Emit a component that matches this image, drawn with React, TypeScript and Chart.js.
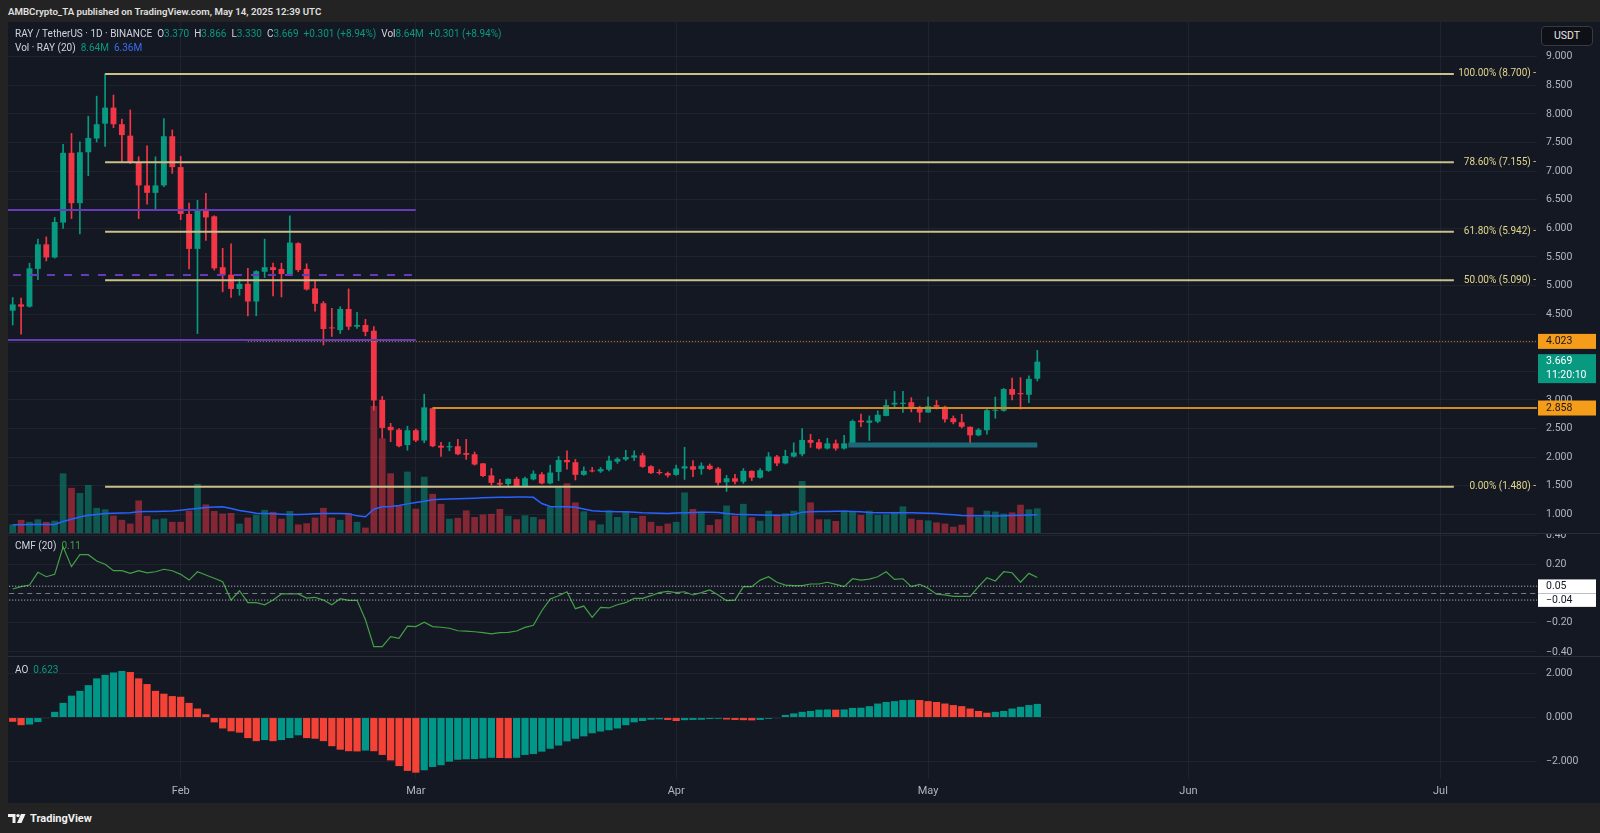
import React, { useEffect, useRef } from 'react';
import { Chart, registerables } from 'chart.js';

Chart.register(...registerables);

// ---------------- data (index 0 = Jan 12, 2025, daily bars, last = May 14, 2025) ----------------
const candleOpen = [
  4.56, 4.67, 4.63, 5.29, 5.72, 5.49, 6.10, 7.32, 6.44, 7.33, 7.57, 7.83, 8.11, 7.82, 7.62, 7.15, 6.75, 6.62, 6.75, 7.61,
  7.07, 6.25, 5.64, 6.34, 6.21, 5.32, 5.19, 4.94, 5.03, 4.72, 5.24, 5.32, 5.29, 5.20, 5.74, 5.29, 4.95, 4.69, 4.26, 4.22,
  4.59, 4.28, 4.31, 4.21, 3.00, 2.53, 2.48, 2.21, 2.47, 2.29, 2.855, 2.20, 2.17, 2.19, 2.07, 2.05, 1.89, 1.68, 1.55, 1.53,
  1.62, 1.49, 1.61, 1.70, 1.54, 1.74, 1.95, 1.91, 1.69, 1.76, 1.75, 1.78, 1.92, 1.96, 1.99, 2.03, 1.84, 1.74, 1.72, 1.69,
  1.80, 1.84, 1.79, 1.85, 1.80, 1.56, 1.63, 1.57, 1.76, 1.64, 1.76, 2.01, 1.89, 2.01, 2.05, 2.30, 2.26, 2.15, 2.24, 2.15,
  2.23, 2.64, 2.60, 2.62, 2.72, 2.92, 2.93, 2.96, 2.86, 2.78, 2.91, 2.88, 2.68, 2.61, 2.53, 2.38, 2.47, 2.81, 2.81, 3.19,
  3.12, 3.09, 3.370,
];
const candleHigh = [
  4.79, 4.78, 5.39, 5.81, 5.85, 6.19, 7.47, 7.66, 7.51, 7.96, 8.31, 8.70, 8.33, 7.91, 8.07, 7.25, 7.44, 7.25, 7.92, 7.72,
  7.26, 6.44, 6.49, 6.61, 6.22, 5.65, 5.73, 5.11, 5.30, 5.26, 5.81, 5.39, 5.39, 6.22, 5.75, 5.38, 5.08, 4.72, 4.60, 4.63,
  4.94, 4.53, 4.41, 4.28, 3.06, 2.59, 2.50, 2.54, 2.49, 3.10, 2.86, 2.26, 2.26, 2.31, 2.31, 2.09, 1.89, 1.80, 1.61, 1.62,
  1.65, 1.65, 1.76, 1.73, 1.86, 2.01, 2.11, 1.96, 1.83, 1.82, 1.82, 2.02, 1.99, 2.12, 2.11, 2.07, 1.85, 1.78, 1.74, 1.86,
  2.17, 1.94, 1.90, 1.88, 1.82, 1.68, 1.70, 1.80, 1.76, 1.80, 2.08, 2.03, 2.12, 2.25, 2.50, 2.40, 2.31, 2.33, 2.30, 2.38,
  2.65, 2.75, 2.72, 2.81, 3.00, 3.15, 3.15, 3.04, 2.89, 3.05, 2.99, 2.89, 2.72, 2.75, 2.53, 2.50, 2.84, 3.05, 3.20, 3.38,
  3.39, 3.42, 3.866,
];
const candleLow = [
  4.31, 4.15, 4.62, 5.10, 5.43, 5.48, 6.00, 6.17, 5.90, 6.92, 7.51, 7.43, 7.76, 7.16, 7.13, 6.17, 6.42, 6.31, 6.73, 6.96,
  6.15, 5.29, 4.16, 5.79, 5.27, 4.89, 4.79, 4.83, 4.47, 4.47, 5.14, 4.82, 4.80, 5.19, 5.24, 4.92, 4.55, 3.96, 4.11, 4.16,
  4.23, 4.25, 4.12, 2.82, 2.33, 2.27, 2.18, 2.12, 2.27, 2.25, 2.18, 2.01, 2.11, 2.04, 1.96, 1.86, 1.66, 1.51, 1.48, 1.50,
  1.485, 1.48, 1.60, 1.53, 1.53, 1.59, 1.79, 1.60, 1.68, 1.74, 1.73, 1.76, 1.89, 1.94, 1.94, 1.82, 1.71, 1.70, 1.65, 1.68,
  1.61, 1.66, 1.70, 1.78, 1.51, 1.40, 1.53, 1.54, 1.59, 1.63, 1.75, 1.85, 1.88, 2.00, 2.02, 2.17, 2.14, 2.14, 2.12, 2.14,
  2.19, 2.53, 2.29, 2.60, 2.72, 2.87, 2.78, 2.79, 2.61, 2.78, 2.84, 2.61, 2.58, 2.51, 2.21, 2.37, 2.40, 2.68, 2.80, 3.00,
  2.84, 2.95, 3.330,
];
const candleClose = [
  4.67, 4.63, 5.30, 5.72, 5.49, 6.11, 7.32, 6.44, 7.33, 7.58, 7.82, 8.11, 7.82, 7.63, 7.15, 6.75, 6.62, 6.75, 7.61, 7.07,
  6.25, 5.64, 6.32, 6.19, 5.30, 5.18, 4.94, 5.03, 4.72, 5.25, 5.32, 5.27, 5.20, 5.75, 5.27, 4.93, 4.68, 4.24, 4.25, 4.59,
  4.28, 4.31, 4.19, 2.99, 2.51, 2.47, 2.19, 2.47, 2.29, 2.87, 2.19, 2.165, 2.19, 2.05, 2.04, 1.87, 1.67, 1.55, 1.52, 1.62,
  1.49, 1.63, 1.71, 1.54, 1.73, 1.95, 1.91, 1.69, 1.76, 1.75, 1.79, 1.94, 1.97, 2.00, 2.03, 1.83, 1.72, 1.72, 1.68, 1.80,
  1.84, 1.78, 1.85, 1.79, 1.55, 1.63, 1.57, 1.76, 1.64, 1.77, 2.01, 1.89, 2.02, 2.08, 2.30, 2.25, 2.15, 2.24, 2.15, 2.24,
  2.63, 2.61, 2.64, 2.74, 2.91, 2.95, 2.95, 2.86, 2.78, 2.89, 2.88, 2.66, 2.61, 2.53, 2.38, 2.48, 2.82, 2.82, 3.19, 3.09,
  3.10, 3.368, 3.669,
];
// volume in millions RAY
const volumeM = [
  3.0, 4.6, 3.9, 4.8, 3.9, 4.3, 20.9, 15.8, 14.0, 16.8, 8.8, 8.3, 6.1, 4.6, 3.3, 11.4, 6.0, 4.8, 5.1, 3.9,
  3.9, 7.8, 17.2, 10.0, 7.7, 6.8, 7.0, 3.3, 5.4, 6.4, 8.1, 7.4, 5.0, 7.7, 3.0, 3.4, 5.4, 8.8, 5.4, 4.6,
  6.9, 3.9, 1.9, 44.5, 33.1, 20.9, 9.5, 21.5, 8.5, 19.7, 13.7, 10.2, 5.0, 5.3, 7.9, 5.6, 6.5, 6.7, 8.4, 6.0,
  4.8, 6.2, 5.6, 4.8, 9.2, 16.0, 17.4, 10.7, 7.6, 4.4, 3.0, 7.9, 5.6, 7.7, 5.3, 6.0, 3.9, 2.5, 3.3, 3.9,
  14.2, 8.4, 7.5, 2.8, 4.8, 9.6, 6.1, 10.2, 5.5, 4.3, 7.8, 6.5, 6.9, 7.8, 18.2, 10.7, 4.8, 4.8, 4.2, 7.9,
  7.4, 6.3, 7.8, 6.3, 6.5, 7.4, 9.3, 5.0, 4.6, 4.4, 3.7, 3.3, 2.2, 2.9, 9.0, 5.6, 7.8, 7.5, 6.8, 7.2,
  9.9, 8.3, 8.64,
];
const volumeMA = [
  2.9, 2.9, 3.0, 3.0, 3.0, 3.0, 4.0, 4.8, 5.6, 6.2, 6.5, 6.8, 6.9, 7.0, 7.1, 7.4, 7.5, 7.5, 7.6, 7.7,
  8.0, 8.3, 8.6, 8.9, 9.1, 9.2, 8.6, 7.9, 7.4, 6.9, 6.8, 6.7, 6.6, 6.5, 6.5, 6.6, 6.7, 6.8, 6.8, 6.8,
  6.7, 6.0, 5.7, 8.3, 9.2, 9.3, 9.6, 10.2, 10.7, 11.1, 11.6, 11.8, 11.9, 12.0, 12.1, 12.2, 12.3, 12.4, 12.5, 12.5,
  12.6, 12.6, 12.5, 10.3, 9.3, 9.2, 9.2, 9.0, 8.4, 7.8, 7.6, 7.5, 7.4, 7.4, 7.3, 7.1, 7.0, 6.9, 6.8, 7.0,
  7.1, 7.2, 7.3, 7.3, 7.2, 6.8, 6.6, 6.5, 6.4, 6.3, 6.2, 6.2, 6.3, 6.5, 7.3, 7.4, 7.5, 7.5, 7.6, 7.6,
  7.5, 7.4, 7.2, 7.1, 7.1, 7.1, 7.1, 7.1, 7.0, 6.9, 6.8, 6.6, 6.4, 6.1, 6.0, 6.0, 6.0, 5.95, 6.0, 6.1,
  6.2, 6.3, 6.36,
];
const cmfValues = [
  0.031, 0.047, 0.058, 0.145, 0.115, 0.131, 0.32, 0.184, 0.266, 0.266, 0.223, 0.200, 0.156, 0.156, 0.138, 0.156, 0.142, 0.149, 0.166, 0.156,
  0.131, 0.092, 0.149, 0.127, 0.104, 0.081, -0.045, 0.019, -0.063, -0.063, -0.077, -0.045, -0.003, -0.003, -0.003, -0.031, -0.026, -0.045, -0.077, -0.036,
  -0.047, -0.047, -0.18, -0.364, -0.364, -0.296, -0.307, -0.223, -0.227, -0.197, -0.227, -0.231, -0.238, -0.255, -0.257, -0.262, -0.268, -0.277, -0.268, -0.266,
  -0.257, -0.232, -0.218, -0.118, -0.038, -0.015, 0.012, -0.104, -0.086, -0.163, -0.095, -0.099, -0.077, -0.063, -0.033, -0.033, -0.015, 0.006, 0.015, 0.006,
  0.012, -0.010, 0.006, 0.024, -0.010, -0.049, -0.045, 0.047, 0.047, 0.092, 0.115, 0.077, 0.058, 0.054, 0.054, 0.065, 0.065, 0.077, 0.063, 0.047,
  0.101, 0.092, 0.099, 0.115, 0.149, 0.097, 0.101, 0.047, 0.063, 0.036, -0.005, -0.010, -0.019, -0.019, -0.019, 0.047, 0.108, 0.086, 0.149, 0.142,
  0.077, 0.138, 0.11,
];
const aoValues = [
  -0.195, -0.35, -0.32, -0.21, -0.03, 0.26, 0.67, 1.00, 1.22, 1.48, 1.79, 1.95, 2.06, 2.13, 2.08, 1.79, 1.53, 1.22, 1.09, 0.98,
  0.95, 0.67, 0.41, 0.15, -0.22, -0.50, -0.63, -0.69, -0.94, -1.08, -1.03, -1.08, -1.03, -0.94, -0.81, -0.94, -0.97, -1.08, -1.31, -1.47,
  -1.54, -1.55, -1.51, -1.54, -1.71, -1.96, -2.22, -2.44, -2.52, -2.41, -2.26, -2.18, -2.02, -1.93, -1.91, -1.90, -1.87, -1.84, -1.85, -1.86,
  -1.84, -1.71, -1.67, -1.56, -1.43, -1.28, -1.09, -0.97, -0.86, -0.72, -0.64, -0.58, -0.50, -0.35, -0.22, -0.16, -0.10, -0.08, -0.11, -0.16,
  -0.12, -0.11, -0.10, -0.07, -0.06, -0.09, -0.11, -0.12, -0.13, -0.11, -0.06, -0.03, 0.12, 0.19, 0.26, 0.30, 0.36, 0.37, 0.36, 0.37,
  0.44, 0.45, 0.52, 0.64, 0.71, 0.75, 0.80, 0.81, 0.80, 0.75, 0.71, 0.64, 0.57, 0.52, 0.41, 0.30, 0.22, 0.26, 0.30, 0.41,
  0.49, 0.57, 0.623,
];

// axis ticks / labels
const priceTicks = [1, 1.5, 2, 2.5, 3, 3.5, 4, 4.5, 5, 5.5, 6, 6.5, 7, 7.5, 8, 8.5, 9];
const cmfTicks = [0.4, 0.2, -0.2, -0.4];
const cmfTickLabels = ['0.40', '0.20', '\u22120.20', '\u22120.40'];
const aoTicks = [2, 0, -2];
const aoTickLabels = ['2.000', '0.000', '\u22122.000'];
const monthTicks = [
  { index: 20, label: 'Feb' },
  { index: 48, label: 'Mar' },
  { index: 79, label: 'Apr' },
  { index: 109, label: 'May' },
  { index: 140, label: 'Jun' },
  { index: 170, label: 'Jul' },
];

// drawings (prices and bar-index anchors)
const fibLevels = [
  { label: '100.00%', price: 8.7 },
  { label: '78.60%', price: 7.155 },
  { label: '61.80%', price: 5.942 },
  { label: '50.00%', price: 5.09 },
  { label: '0.00%', price: 1.48 },
];
const fibStartIndex = 11;
const fibEndIndex = 171.6;
const purpleLevels = [
  { price: 6.32, dashed: false },
  { price: 5.184, dashed: true },
  { price: 4.047, dashed: false },
];
const purpleRange = [-2, 48];
const dottedLevel = { price: 4.023, from: 28 };
const supportLevel = { price: 2.858, from: 50 };
const zoneLevel = { price: 2.211, from: 99.5, to: 122 };
const cmfBands = [0.05, -0.045];
const cmfBandLabels = ['0.05', '\u22120.04'];
const priceTags = [
  { price: 4.023, lines: ['4.023'], kind: 'alert' },
  { price: 3.669, lines: ['3.669', '11:20:10'], kind: 'last' },
  { price: 2.858, lines: ['2.858'], kind: 'alert' },
];
const legendTexts = {
  title: 'AMBCrypto_TA published on TradingView.com, May 14, 2025 12:39 UTC',
  symbol: 'RAY / TetherUS \u00b7 1D \u00b7 BINANCE',
  vol: 'Vol \u00b7 RAY (20)',
  cmf: 'CMF (20)',
  ao: 'AO',
};

// ---------------- styles ----------------
const FRAME = '#232323';
const PANE_BG = '#141823';
const GRID = 'rgba(42,46,57,0.55)';
const TEXT = '#d1d4dc';
const AXIS_TEXT = '#b2b5be';
const UP = '#089981';
const DOWN = '#f23645';
const UP_VOL = 'rgba(8,153,129,0.5)';
const DOWN_VOL = 'rgba(242,54,69,0.5)';
const AO_UP = '#009688';
const AO_DOWN = '#f44336';
const FIB = '#c9c08a';
const FIB_TEXT = '#e2d68c';
const PURPLE = '#673ab7';
const ORANGE = '#f59d1a';
const ORANGE_LINE = '#cf8a24';
const ZONE = '#1d6878';
const CMF_LINE = '#43a047';
const MA_LINE = '#2962ff';
const FONT = 'Roboto, "Noto Sans", sans-serif';
const AXIS_W = 63;
const X_MIN = -0.56;
const X_MAX = 181.5;

const last = candleClose.length - 1;
const fmtM = (v: number) => v.toFixed(2) + 'M';

function xScale(showLabels: boolean) {
  return {
    type: 'linear',
    min: X_MIN,
    max: X_MAX,
    offset: false,
    afterBuildTicks: (s: any) => {
      s.ticks = monthTicks.map((m) => ({ value: m.index }));
    },
    afterFit: (s: any) => {
      s.height = showLabels ? 24 : 0;
    },
    grid: { color: GRID, drawTicks: false, lineWidth: 1, offset: false },
    border: { display: false },
    ticks: {
      display: showLabels,
      autoSkip: false,
      maxRotation: 0,
      padding: 6,
      color: AXIS_TEXT,
      font: { family: FONT, size: 11 },
      callback: (v: number) => {
        const m = monthTicks.find((t) => t.index === v);
        return m ? m.label : '';
      },
    },
  };
}

function yScale(min: number, max: number, ticks: number[]) {
  return {
    type: 'linear',
    position: 'right',
    min,
    max,
    afterBuildTicks: (s: any) => {
      s.ticks = ticks.map((v) => ({ value: v }));
    },
    afterFit: (s: any) => {
      s.width = AXIS_W;
    },
    grid: { color: GRID, drawTicks: false, lineWidth: 1 },
    border: { display: false },
    ticks: { display: false },
  };
}

const baseOptions = {
  animation: false,
  responsive: false,
  maintainAspectRatio: false,
  events: [],
  layout: { padding: 0 },
  plugins: { legend: { display: false }, tooltip: { enabled: false } },
};

const mainOverlay = {
  id: 'mainOverlay',
  afterDraw(chart: any) {
    const { ctx, chartArea: a } = chart;
    const y = chart.scales.y;
    ctx.save();
    ctx.font = `10.5px ${FONT}`;
    ctx.textBaseline = 'middle';
    ctx.textAlign = 'left';
    ctx.fillStyle = AXIS_TEXT;
    priceTicks.forEach((v) => ctx.fillText(v.toFixed(3), a.right + 9, y.getPixelForValue(v)));
    ctx.font = `10px ${FONT}`;
    ctx.textAlign = 'right';
    ctx.fillStyle = FIB_TEXT;
    fibLevels.forEach((f) =>
      ctx.fillText(`${f.label} (${f.price.toFixed(3)}) -`, a.right - 1, y.getPixelForValue(f.price))
    );
    ctx.font = `10.5px ${FONT}`;
    ctx.textAlign = 'left';
    priceTags.forEach((t) => {
      const py = y.getPixelForValue(t.price);
      const h = 15 + (t.lines.length - 1) * 14;
      ctx.fillStyle = t.kind === 'last' ? UP : ORANGE;
      ctx.fillRect(a.right + 1, py - 7.5, chart.width - a.right - 5, h);
      ctx.fillStyle = t.kind === 'last' ? '#ffffff' : '#131722';
      t.lines.forEach((s, k) => ctx.fillText(s, a.right + 9, py + k * 14));
    });
    ctx.restore();
  },
};

const cmfOverlay = {
  id: 'cmfOverlay',
  afterDraw(chart: any) {
    const { ctx, chartArea: a } = chart;
    const y = chart.scales.y;
    ctx.save();
    ctx.font = `10.5px ${FONT}`;
    ctx.textBaseline = 'middle';
    ctx.fillStyle = AXIS_TEXT;
    cmfTicks.forEach((v, k) => ctx.fillText(cmfTickLabels[k], a.right + 9, y.getPixelForValue(v)));
    cmfBands.forEach((v, k) => {
      const py = y.getPixelForValue(v);
      ctx.fillStyle = '#ffffff';
      ctx.fillRect(a.right + 1, py - 6.8, chart.width - a.right - 5, 13.6);
      ctx.fillStyle = '#131722';
      ctx.fillText(cmfBandLabels[k], a.right + 9, py);
    });
    ctx.restore();
  },
};

const aoOverlay = {
  id: 'aoOverlay',
  afterDraw(chart: any) {
    const { ctx, chartArea: a } = chart;
    const y = chart.scales.y;
    ctx.save();
    ctx.font = `10.5px ${FONT}`;
    ctx.textBaseline = 'middle';
    ctx.fillStyle = AXIS_TEXT;
    aoTicks.forEach((v, k) => ctx.fillText(aoTickLabels[k], a.right + 9, y.getPixelForValue(v)));
    ctx.restore();
  },
};

function hLine(points: { x: number; y: number }[], color: string, width: number, dash: number[] = [], yAxisID = 'y') {
  return {
    type: 'line',
    data: points,
    borderColor: color,
    borderWidth: width,
    borderDash: dash,
    pointRadius: 0,
    fill: false,
    tension: 0,
    borderCapStyle: 'butt',
    yAxisID,
    order: 0,
  };
}

export default function App() {
  const mainRef = useRef<HTMLCanvasElement>(null);
  const cmfRef = useRef<HTMLCanvasElement>(null);
  const aoRef = useRef<HTMLCanvasElement>(null);

  useEffect(() => {
    const idx = candleClose.map((_, i) => i);
    const isUp = idx.map((i) => candleClose[i] >= candleOpen[i]);
    const candleColors = isUp.map((u) => (u ? UP : DOWN));
    const volColors = isUp.map((u) => (u ? UP_VOL : DOWN_VOL));

    const drawingSets: any[] = [];
    fibLevels.forEach((f) =>
      drawingSets.push(hLine([{ x: fibStartIndex, y: f.price }, { x: fibEndIndex, y: f.price }], FIB, 2))
    );
    purpleLevels.forEach((p) =>
      drawingSets.push(
        hLine([{ x: purpleRange[0], y: p.price }, { x: purpleRange[1], y: p.price }], PURPLE, 2, p.dashed ? [8, 9] : [])
      )
    );
    drawingSets.push(hLine([{ x: dottedLevel.from, y: dottedLevel.price }, { x: X_MAX + 2, y: dottedLevel.price }], ORANGE_LINE, 1, [1, 2]));
    drawingSets.push(hLine([{ x: supportLevel.from, y: supportLevel.price }, { x: X_MAX + 2, y: supportLevel.price }], ORANGE_LINE, 2));
    drawingSets.push(hLine([{ x: zoneLevel.from, y: zoneLevel.price }, { x: zoneLevel.to, y: zoneLevel.price }], ZONE, 5));

    const main = new Chart(mainRef.current as HTMLCanvasElement, {
      type: 'bar',
      data: {
        datasets: [
          ...drawingSets,
          {
            type: 'bar',
            data: idx.map((i) => ({ x: i, y: [candleOpen[i], candleClose[i]] })),
            backgroundColor: candleColors,
            borderWidth: 0,
            grouped: false,
            barPercentage: 0.7,
            categoryPercentage: 1,
            minBarLength: 1,
            yAxisID: 'y',
            order: 1,
          },
          {
            type: 'bar',
            data: idx.map((i) => ({ x: i, y: [candleLow[i], candleHigh[i]] })),
            backgroundColor: candleColors,
            borderWidth: 0,
            grouped: false,
            barThickness: 1,
            yAxisID: 'y',
            order: 2,
          },
          {
            type: 'line',
            data: idx.map((i) => ({ x: i, y: volumeMA[i] })),
            borderColor: MA_LINE,
            borderWidth: 1.5,
            pointRadius: 0,
            tension: 0,
            yAxisID: 'yv',
            order: 3,
          },
          {
            type: 'bar',
            data: idx.map((i) => ({ x: i, y: volumeM[i] })),
            backgroundColor: volColors,
            borderWidth: 0,
            grouped: false,
            barPercentage: 0.8,
            categoryPercentage: 1,
            yAxisID: 'yv',
            order: 4,
          },
        ],
      },
      options: {
        ...baseOptions,
        scales: {
          x: xScale(false),
          y: yScale(0.673, 9.607, priceTicks),
          yv: { type: 'linear', display: false, min: 0, max: 178.9 },
        },
      } as any,
      plugins: [mainOverlay],
    } as any);

    const cmf = new Chart(cmfRef.current as HTMLCanvasElement, {
      type: 'line',
      data: {
        datasets: [
          hLine([{ x: X_MIN - 2, y: cmfBands[0] }, { x: X_MAX + 2, y: cmfBands[0] }], '#c8cad0', 1, [1, 2]),
          hLine([{ x: X_MIN - 2, y: 0 }, { x: X_MAX + 2, y: 0 }], '#787b86', 1, [5, 4]),
          hLine([{ x: X_MIN - 2, y: cmfBands[1] }, { x: X_MAX + 2, y: cmfBands[1] }], '#c8cad0', 1, [1, 2]),
          {
            type: 'line',
            data: idx.map((i) => ({ x: i, y: cmfValues[i] })),
            borderColor: CMF_LINE,
            borderWidth: 1.2,
            pointRadius: 0,
            tension: 0,
            order: 1,
          },
        ],
      },
      options: {
        ...baseOptions,
        scales: { x: xScale(false), y: yScale(-0.428, 0.4075, cmfTicks) },
      } as any,
      plugins: [cmfOverlay],
    } as any);

    const aoColors = idx.map((i) => (i === 0 || aoValues[i] < aoValues[i - 1] ? AO_DOWN : AO_UP));
    const ao = new Chart(aoRef.current as HTMLCanvasElement, {
      type: 'bar',
      data: {
        datasets: [
          {
            type: 'bar',
            data: idx.map((i) => ({ x: i, y: aoValues[i] })),
            backgroundColor: aoColors,
            borderWidth: 0,
            grouped: false,
            barPercentage: 0.86,
            categoryPercentage: 1,
          },
        ],
      },
      options: {
        ...baseOptions,
        scales: { x: xScale(true), y: yScale(-2.81, 2.767, aoTicks) },
      } as any,
      plugins: [aoOverlay],
    } as any);

    return () => {
      main.destroy();
      cmf.destroy();
      ao.destroy();
    };
  }, []);

  const legendRow: React.CSSProperties = {
    position: 'absolute',
    left: 15,
    fontSize: 10,
    lineHeight: '14px',
    color: TEXT,
    whiteSpace: 'nowrap',
  };
  const gap = { marginLeft: 5 };
  const val = { color: UP };
  const changeAbs = candleClose[last] - candleClose[last - 1];
  const changePct = (changeAbs / candleClose[last - 1]) * 100;
  const changeText = `+${changeAbs.toFixed(3)} (+${changePct.toFixed(2)}%)`;

  return (
    <div
      style={{
        position: 'fixed',
        left: 0,
        top: 0,
        width: 1600,
        height: 833,
        background: FRAME,
        overflow: 'hidden',
        fontFamily: FONT,
      }}
    >
      <div
        style={{
          position: 'absolute',
          left: 8,
          top: 4,
          fontSize: 9.7,
          lineHeight: '15px',
          fontWeight: 600,
          color: '#e0e0e0',
          whiteSpace: 'nowrap',
        }}
      >
        {legendTexts.title}
      </div>
      <div style={{ position: 'absolute', left: 8, top: 22, width: 1592, height: 781, background: PANE_BG }} />
      <canvas
        ref={mainRef}
        width={1592}
        height={511}
        style={{ position: 'absolute', left: 8, top: 22, width: 1592, height: 511 }}
      />
      <div style={{ position: 'absolute', left: 8, top: 533, width: 1592, height: 1, background: '#2a2e39' }} />
      <canvas
        ref={cmfRef}
        width={1592}
        height={122}
        style={{ position: 'absolute', left: 8, top: 534, width: 1592, height: 122 }}
      />
      <div style={{ position: 'absolute', left: 8, top: 656, width: 1592, height: 1, background: '#2a2e39' }} />
      <canvas
        ref={aoRef}
        width={1592}
        height={146}
        style={{ position: 'absolute', left: 8, top: 657, width: 1592, height: 146 }}
      />

      <div style={{ ...legendRow, top: 27 }}>
        <span>{legendTexts.symbol}</span>
        <span style={gap}>O</span>
        <span style={val}>{candleOpen[last].toFixed(3)}</span>
        <span style={gap}>H</span>
        <span style={val}>{candleHigh[last].toFixed(3)}</span>
        <span style={gap}>L</span>
        <span style={val}>{candleLow[last].toFixed(3)}</span>
        <span style={gap}>C</span>
        <span style={val}>{candleClose[last].toFixed(3)}</span>
        <span style={{ ...gap, ...val }}>{changeText}</span>
        <span style={gap}>Vol</span>
        <span style={val}>{fmtM(volumeM[last])}</span>
        <span style={{ ...gap, ...val }}>{changeText}</span>
      </div>
      <div style={{ ...legendRow, top: 41 }}>
        <span>{legendTexts.vol}</span>
        <span style={{ ...gap, ...val }}>{fmtM(volumeM[last])}</span>
        <span style={{ ...gap, color: '#3b6cf6' }}>{fmtM(volumeMA[last])}</span>
      </div>
      <div style={{ ...legendRow, top: 539 }}>
        <span>{legendTexts.cmf}</span>
        <span style={{ ...gap, color: CMF_LINE }}>{cmfValues[last].toFixed(2)}</span>
      </div>
      <div style={{ ...legendRow, top: 663 }}>
        <span>{legendTexts.ao}</span>
        <span style={{ ...gap, color: UP }}>{aoValues[last].toFixed(3)}</span>
      </div>

      <div
        style={{
          position: 'absolute',
          left: 1541,
          top: 26,
          width: 52,
          height: 20,
          boxSizing: 'border-box',
          background: '#0e1016',
          border: '1px solid #363a45',
          borderRadius: 4,
          color: '#e6e6e6',
          fontSize: 10.5,
          lineHeight: '18px',
          textAlign: 'center',
        }}
      >
        USDT
      </div>

      <div
        style={{
          position: 'absolute',
          left: 8,
          top: 809,
          height: 18,
          display: 'flex',
          alignItems: 'center',
          gap: 4,
          color: '#f0f0f0',
          fontSize: 11,
          fontWeight: 700,
        }}
      >
        <svg width="18" height="11" viewBox="0 0 18 11">
          <path d="M0 1h7.5v9H4.5V4H0z" fill="#f0f0f0" />
          <circle cx="10" cy="2.6" r="1.7" fill="#f0f0f0" />
          <path d="M13 1h4.5l-4 9H9z" fill="#f0f0f0" />
        </svg>
        <span>TradingView</span>
      </div>
    </div>
  );
}
